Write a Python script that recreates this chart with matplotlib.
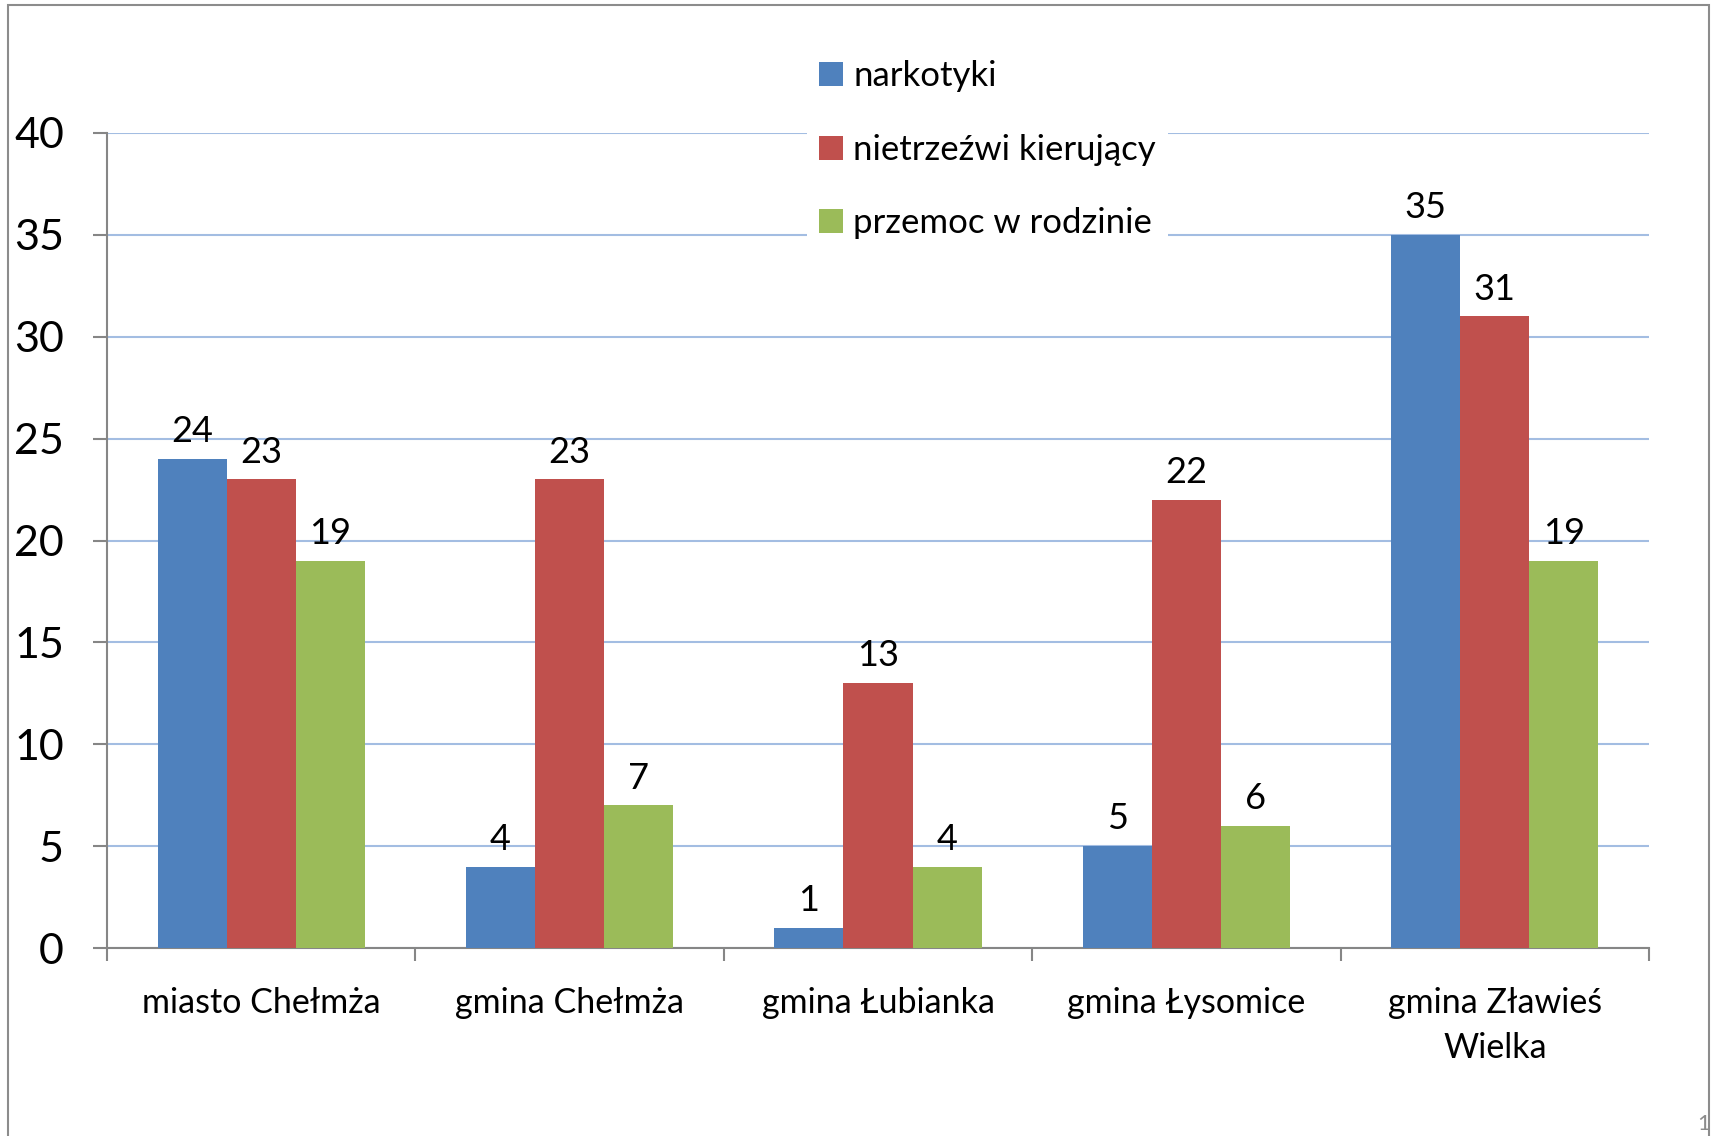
import matplotlib
matplotlib.use("Agg")
import matplotlib.pyplot as plt
import numpy as np
from matplotlib.patches import Rectangle, Patch

categories = ["miasto Chełmża", "gmina Chełmża", "gmina Łubianka", "gmina Łysomice", "gmina Zławieś\nWielka"]
series_names = ["narkotyki", "nietrzeźwi kierujący", "przemoc w rodzinie"]
narkotyki = [24, 4, 1, 5, 35]
nietrzezwi = [23, 23, 13, 22, 31]
przemoc = [19, 7, 4, 6, 19]
yticks = [0, 5, 10, 15, 20, 25, 30, 35, 40]

colors = ["#4F81BD", "#C0504D", "#9BBB59"]
plt.rcParams['font.family'] = ['Lato', 'DejaVu Sans']

W, H = 1711, 1136
fig = plt.figure(figsize=(W/100, H/100), dpi=100)
ax = fig.add_axes([107/W, 1-948/H, (1649-107)/W, (948-133)/H])

x = np.arange(len(categories))
bw = 0.224
for i, (vals, c) in enumerate(zip([narkotyki, nietrzezwi, przemoc], colors)):
    pos = x + (i-1)*bw
    ax.bar(pos, vals, width=bw, color=c, linewidth=0, zorder=3)
    for p, v in zip(pos, vals):
        ax.annotate(str(v), (p, v), xytext=(0, 12), textcoords='offset points',
                    ha='center', va='baseline', fontsize=26, color='black', zorder=4)

ax.set_xlim(-0.5, len(categories)-0.5)
ax.set_ylim(0, 40)
ax.set_yticks(yticks)
ax.set_yticklabels([str(t) for t in yticks], fontsize=31)
ax.yaxis.grid(True, color='#a3bde2', linewidth=1.5, zorder=0)
ax.set_axisbelow(True)

ax.set_xticks(x)
ax.set_xticklabels(categories, fontsize=24.5, linespacing=1.5)
ax.set_xticks(np.arange(-0.5, len(categories)), minor=True)
ax.tick_params(axis='x', which='major', length=0, pad=28)
ax.tick_params(axis='x', which='minor', length=9, color='#868686', width=1.5, direction='out')
ax.tick_params(axis='y', length=10, color='#868686', width=1.5, pad=21)

for s in ['top', 'right']:
    ax.spines[s].set_visible(False)
for s in ['left', 'bottom']:
    ax.spines[s].set_color('#868686')
    ax.spines[s].set_linewidth(1.5)

handles = [Patch(facecolor=c, edgecolor='none') for c in colors]
leg = fig.legend(handles, series_names, loc='upper left',
                 bbox_to_anchor=(807/W, 1-48/H), fontsize=25,
                 frameon=True, facecolor='white', edgecolor='none', framealpha=1,
                 handlelength=0.7, handleheight=0.7, handletextpad=0.28,
                 labelspacing=1.2, borderpad=0.35, borderaxespad=0)
leg.set_zorder(10)

# outer frame
fig.patches.append(Rectangle((8/W, -0.05), (1709-8)/W, 1.05-5/H, transform=fig.transFigure,
                             fill=False, edgecolor='#8c8c8c', linewidth=1.5, clip_on=False))
fig.text(1710/W, 2/H, "1", fontsize=16, color='#8c8c8c', ha='right', va='bottom')

fig.savefig("out.png", dpi=100)
